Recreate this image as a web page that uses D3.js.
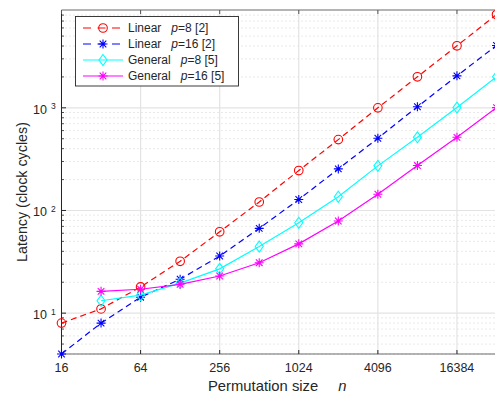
<!DOCTYPE html>
<html>
<head>
<meta charset="utf-8">
<script src="https://cdn.jsdelivr.net/npm/d3@7"></script>
<style>
  body { margin: 0; background: #fff; }
  text { font-family: "Liberation Sans", Arial, sans-serif; fill: #262626; }
</style>
</head>
<body>
<div id="container"></div>
<script>
// data

const sizes = [16, 32, 64, 128, 256, 512, 1024, 2048, 4096, 8192, 16384, 32768];
const linearP8 = [8, 11, 18, 32, 62, 121, 245, 490, 1000, 2005, 4020, 8100];
const linearP16 = [4, 8, 14.3, 21.4, 36, 67, 128, 254, 505, 1024, 2048, 4050];
const generalP8 = [null, 13.2, 15, 19.6, 27, 44.6, 76, 136, 272, 516, 1005, 2005];
const generalP16 = [null, 16.3, 17.1, 19.1, 23, 31, 47.3, 79, 144, 274, 516, 1005];
const xTicks = [16, 64, 256, 1024, 4096, 16384];
const yTicks = [10, 100, 1000];

const series = [
  {name: "Linear", p: "=8 [2]", values: linearP8, color: "#ff0000", dash: "6,4", marker: "circle"},
  {name: "Linear", p: "=16 [2]", values: linearP16, color: "#0000ff", dash: "6,4", marker: "star"},
  {name: "General", p: "=8 [5]", values: generalP8, color: "#00ffff", dash: null, marker: "diamond"},
  {name: "General", p: "=16 [5]", values: generalP16, color: "#ff00ff", dash: null, marker: "star"}
];

// variables

const width = 495;
const height = 399;
const plotL = 61.5, plotR = 496.5, plotT = 10, plotB = 354;

// scales

const xScale = d3.scaleLog().base(2)
  .domain([16, 32768])
  .range([plotL, plotR]);

const yScale = d3.scaleLog()
  .domain([4, 8970])
  .range([plotB, plotT]);

const svg = d3.select("#container")
  .append("svg")
  .attr("width", width)
  .attr("height", height);

// minor y values (2..9 per decade inside the domain)
const minorY = [];
[1, 10, 100, 1000].forEach(dec => {
  for (let k = 2; k <= 9; k++) {
    const v = dec * k;
    if (v >= 4 && v <= 8970) minorY.push(v);
  }
});

// grid
const grid = svg.append("g");
grid.selectAll(".minor")
  .data(minorY)
  .join("line")
  .attr("x1", plotL).attr("x2", plotR)
  .attr("y1", d => yScale(d)).attr("y2", d => yScale(d))
  .attr("stroke", "#c8c8c8")
  .attr("stroke-width", 0.8)
  .attr("stroke-dasharray", "1,3");

grid.selectAll(".majorY")
  .data(yTicks)
  .join("line")
  .attr("x1", plotL).attr("x2", plotR)
  .attr("y1", d => yScale(d)).attr("y2", d => yScale(d))
  .attr("stroke", "#e3e3e3")
  .attr("stroke-width", 1.2);

grid.selectAll(".majorX")
  .data(xTicks)
  .join("line")
  .attr("x1", d => xScale(d)).attr("x2", d => xScale(d))
  .attr("y1", plotT).attr("y2", plotB)
  .attr("stroke", "#e3e3e3")
  .attr("stroke-width", 1.2);

// axes box
const axisColor = "#262626";
svg.append("line").attr("x1", plotL).attr("x2", plotR).attr("y1", plotB).attr("y2", plotB)
  .attr("stroke", "#6b6b6b").attr("stroke-width", 1.2);
svg.append("line").attr("x1", plotL).attr("x2", plotR).attr("y1", plotT).attr("y2", plotT)
  .attr("stroke", "#6b6b6b").attr("stroke-width", 1.2);
svg.append("line").attr("x1", plotL).attr("x2", plotL).attr("y1", plotT).attr("y2", plotB)
  .attr("stroke", axisColor).attr("stroke-width", 1);

// x ticks (bottom and top, inward)
xTicks.forEach(t => {
  const x = xScale(t);
  svg.append("line").attr("x1", x).attr("x2", x).attr("y1", plotB).attr("y2", plotB - 4)
    .attr("stroke", axisColor);
  svg.append("line").attr("x1", x).attr("x2", x).attr("y1", plotT).attr("y2", plotT + 4)
    .attr("stroke", "#555");
  svg.append("text")
    .attr("x", x).attr("y", 372)
    .attr("text-anchor", "middle")
    .attr("font-size", 12.5)
    .text(t);
});

// y ticks
minorY.forEach(v => {
  svg.append("line").attr("x1", plotL).attr("x2", plotL + 2.5)
    .attr("y1", yScale(v)).attr("y2", yScale(v)).attr("stroke", axisColor).attr("stroke-width", 0.8);
});
yTicks.forEach(t => {
  const y = yScale(t);
  svg.append("line").attr("x1", plotL).attr("x2", plotL + 4.5).attr("y1", y).attr("y2", y)
    .attr("stroke", axisColor);
  const lab = svg.append("text")
    .attr("x", 33).attr("y", y + 6)
    .attr("font-size", 12.5);
  lab.append("tspan").text("10");
  lab.append("tspan").attr("dx", 4).attr("dy", -4.5).attr("font-size", 8.5).text(Math.round(Math.log10(t)));
});

// axis labels
const xl = svg.append("text")
  .attr("x", 208).attr("y", 391)
  .attr("font-size", 14.8);
xl.append("tspan").text("Permutation size");
xl.append("tspan").attr("dx", 20).attr("font-style", "italic").text("n");

svg.append("text")
  .attr("transform", "translate(26.5,192) rotate(-90)")
  .attr("text-anchor", "middle")
  .attr("font-size", 14.3)
  .text("Latency (clock cycles)");

// markers
function drawMarker(g, type, x, y, color) {
  if (type === "circle") {
    g.append("circle").attr("cx", x).attr("cy", y).attr("r", 4.3)
      .attr("fill", "none").attr("stroke", color).attr("stroke-width", 1.1);
  } else if (type === "diamond") {
    g.append("path")
      .attr("d", `M${x},${y - 5.5}L${x + 4},${y}L${x},${y + 5.5}L${x - 4},${y}Z`)
      .attr("fill", "none").attr("stroke", color).attr("stroke-width", 1.1);
  } else {
    const r = 4.5, d = 3.3;
    g.append("path")
      .attr("d", `M${x - r},${y}L${x + r},${y}M${x},${y - r}L${x},${y + r}` +
        `M${x - d},${y - d}L${x + d},${y + d}M${x - d},${y + d}L${x + d},${y - d}`)
      .attr("fill", "none").attr("stroke", color).attr("stroke-width", 1.1);
  }
}

// lines
const line = d3.line()
  .defined(d => d[1] != null)
  .x(d => xScale(d[0]))
  .y(d => yScale(d[1]));

series.forEach(s => {
  const pts = sizes.map((n, i) => [n, s.values[i]]);
  svg.append("path")
    .datum(pts)
    .attr("d", line)
    .attr("fill", "none")
    .attr("stroke", s.color)
    .attr("stroke-width", 1.2)
    .attr("stroke-dasharray", s.dash);
  const g = svg.append("g");
  pts.filter(d => d[1] != null).forEach(d => drawMarker(g, s.marker, xScale(d[0]), yScale(d[1]), s.color));
});

// legend
const lg = svg.append("g");
lg.append("rect")
  .attr("x", 75.5).attr("y", 16.5).attr("width", 163).attr("height", 69.5)
  .attr("fill", "#fff").attr("stroke", axisColor).attr("stroke-width", 0.9);

series.forEach((s, i) => {
  const y = 28 + i * 16;
  lg.append("line")
    .attr("x1", 83).attr("x2", 123).attr("y1", y).attr("y2", y)
    .attr("stroke", s.color).attr("stroke-width", 1.2)
    .attr("stroke-dasharray", s.dash ? "8,6.5" : null);
  drawMarker(lg, s.marker, 103, y, s.color);
  const t = lg.append("text")
    .attr("x", 128).attr("y", y + 4.3)
    .attr("font-size", 12);
  t.append("tspan").text(s.name);
  t.append("tspan").attr("dx", 10).attr("font-style", "italic").text("p");
  t.append("tspan").text(s.p);
});
</script>
</body>
</html>
